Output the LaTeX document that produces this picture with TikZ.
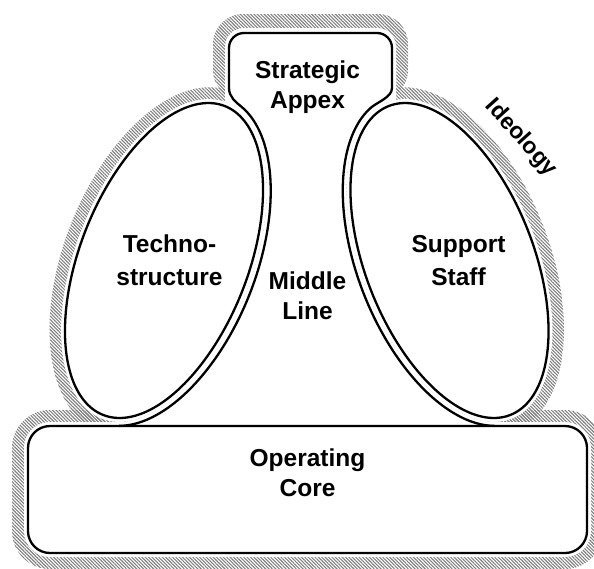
\documentclass[tikz,border=0pt]{standalone}
\usepackage{fontspec}
\setmainfont{Liberation Sans}
\usetikzlibrary{patterns.meta}
% closed ellipses (a = half major, b = half minor), left one tilted so its top leans right
\newcommand\ellipL[2]{plot[domain=0:360,samples=181,variable=\t]({164+#2*0.9304*cos(\t)+#1*0.3665*sin(\t)},{260.5+#2*0.3665*cos(\t)-#1*0.9304*sin(\t)})}
\newcommand\ellipR[2]{plot[domain=0:360,samples=181,variable=\t]({449.5-#2*0.9304*cos(\t)-#1*0.3665*sin(\t)},{260.5+#2*0.3665*cos(\t)-#1*0.9304*sin(\t)})}
% partial arcs
\newcommand\arcL[4]{plot[domain=#3:#4,samples=100,variable=\t]({164+#2*0.9304*cos(\t)+#1*0.3665*sin(\t)},{260.5+#2*0.3665*cos(\t)-#1*0.9304*sin(\t)})}
\newcommand\arcRto[4]{-- plot[domain=#3:#4,samples=100,variable=\t]({449.5-#2*0.9304*cos(\t)+#1*0.3665*sin(\t)},{260.5+#2*0.3665*cos(\t)+#1*0.9304*sin(\t)})}
\begin{document}
\begin{tikzpicture}[x=1pt,y=-1pt,
  band/.style={pattern={Lines[angle=-45,distance=2.4pt,line width=1.1pt]},pattern color=black!50},
  ink/.style={draw=black,line width=2.3pt,line join=round},
  lbl/.style={font=\bfseries\fontsize{24.5}{30}\selectfont,align=center,inner sep=0pt},
  lblw/.style={font=\bfseries\fontsize{24.5}{33}\selectfont,align=center,inner sep=0pt}]
\useasboundingbox (0,0) rectangle (594,568);
% hatched ideology band (outer extent)
\fill[band] \ellipL{182}{100} -- cycle;
\fill[band] \ellipR{182}{100} -- cycle;
\fill[band, rounded corners=30pt] (213,14) rectangle (408,100);
\fill[band, rounded corners=38pt] (12,410) rectangle (603,569);
% white interior (inner edge of the band)
\fill[white] \ellipL{170}{88} -- cycle;
\fill[white] \ellipR{170}{88} -- cycle;
\fill[white, rounded corners=19pt] (225,28) rectangle (396,104);
\fill[white, rounded corners=26pt] (24,422) rectangle (591,557);
\fill[white] \arcL{170}{88}{-78.5}{90} -- (225,102.3) -- (225,60) -- (396,60) -- (396,102.3) \arcRto{170}{88}{-90}{78.5} -- cycle;
% black outlines
\draw[ink] \ellipL{166}{84} -- cycle;
\draw[ink] \ellipR{166}{84} -- cycle;
\draw[ink] \arcL{174}{92}{-78.2}{80} .. controls (235.6,101.9) and (229,97) .. (229,88) -- (229,48) .. controls (229,39.7) and (235.7,33) .. (244,33) -- (377,33) .. controls (385.3,33) and (392,39.7) .. (392,48) -- (392,88) .. controls (392,97) and (378,101.9) .. (371.8,107) \arcRto{174}{92}{-80}{78.2};
\draw[ink, rounded corners=22pt] (28,426) rectangle (587,553);
% labels
\node[lbl] (apex) at (307.5,86.75) {Strategic\\Appex};
\node[lblw] (techno) at (169.5,260.4) {Techno-\\structure};
\node[lblw] (support) at (458.5,260.4) {Support\\Staff};
\node[lbl] (middle) at (307.5,295.5) {Middle\\Line};
\node[lbl] (core) at (307.5,473) {Operating\\Core};
\node[lbl, font=\bfseries\fontsize{23}{28}\selectfont, rotate=-48] (ideology) at (521,138) {Ideology};
\end{tikzpicture}
\end{document}
